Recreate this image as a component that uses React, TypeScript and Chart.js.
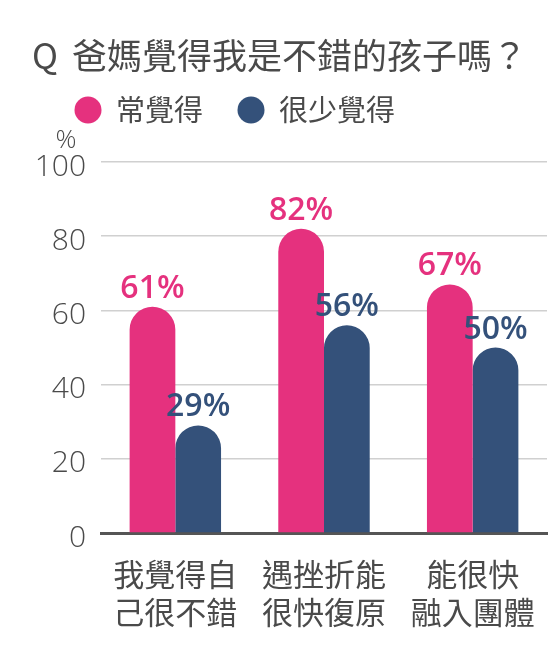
import React, { useEffect, useRef } from "react";
import { Chart, registerables } from "chart.js";

Chart.register(...registerables);

const titleQ = "Q";
const titleText = "爸媽覺得我是不錯的孩子嗎？";
const unitLabel = "%";
const categories = [
  ["我覺得自", "己很不錯"],
  ["遇挫折能", "很快復原"],
  ["能很快", "融入團體"],
];
const seriesNames = ["常覺得", "很少覺得"];
const oftenValues = [61, 82, 67];
const rarelyValues = [29, 56, 50];
const yMin = 0;
const yMax = 100;
const yStep = 20;

const PINK = "#E5317E";
const BLUE = "#34517A";
const TEXT = "#4a4a4a";
const CJK = "'Noto Sans CJK TC', 'Noto Sans', sans-serif";
const NUM = "'Open Sans', 'Noto Sans', sans-serif";

const decorPlugin = {
  id: "decor",
  afterDraw(chart: any) {
    const ctx = chart.ctx;
    ctx.save();
    // Title
    ctx.fillStyle = TEXT;
    ctx.textBaseline = "middle";
    ctx.textAlign = "left";
    ctx.font = `400 35px ${CJK}`;
    ctx.fillText(titleQ, 32, 56);
    ctx.fillText(titleText, 72, 56);
    // Legend
    const legendItems = [
      { x: 88, color: PINK, text: seriesNames[0] },
      { x: 251, color: BLUE, text: seriesNames[1] },
    ];
    ctx.font = `400 29px ${CJK}`;
    legendItems.forEach((it) => {
      ctx.beginPath();
      ctx.fillStyle = it.color;
      ctx.arc(it.x, 110, 13.5, 0, Math.PI * 2);
      ctx.fill();
      ctx.fillStyle = TEXT;
      ctx.fillText(it.text, it.x + 28, 110);
    });
    // unit
    ctx.font = `300 26px ${NUM}`;
    ctx.textAlign = "center";
    ctx.fillText(unitLabel, 66, 141);
    ctx.restore();
  },
  afterDatasetsDraw(chart: any) {
    const ctx = chart.ctx;
    ctx.save();
    ctx.textAlign = "center";
    ctx.textBaseline = "alphabetic";
    ctx.font = `600 32px ${NUM}`;
    chart.data.datasets.forEach((ds: any, i: number) => {
      const meta = chart.getDatasetMeta(i);
      meta.data.forEach((bar: any, j: number) => {
        ctx.fillStyle = ds.backgroundColor;
        ctx.fillText(ds.data[j] + "%", bar.x, bar.y - 9);
      });
    });
    ctx.restore();
  },
};

export default function App() {
  const ref = useRef<HTMLCanvasElement>(null);
  useEffect(() => {
    if (!ref.current) return;
    const chart = new Chart(ref.current, {
      type: "bar",
      data: {
        labels: categories,
        datasets: [
          {
            label: seriesNames[0],
            data: oftenValues,
            backgroundColor: PINK,
            borderRadius: { topLeft: 100, topRight: 100, bottomLeft: 0, bottomRight: 0 },
            borderSkipped: false,
          },
          {
            label: seriesNames[1],
            data: rarelyValues,
            backgroundColor: BLUE,
            borderRadius: { topLeft: 100, topRight: 100, bottomLeft: 0, bottomRight: 0 },
            borderSkipped: false,
          },
        ],
      },
      options: {
        responsive: false,
        animation: false,
        layout: { padding: { top: 162, right: 10, left: 0, bottom: 0 } },
        plugins: {
          legend: { display: false },
          title: { display: false },
          tooltip: { enabled: false },
        },
        datasets: { bar: { categoryPercentage: 0.615, barPercentage: 1 } } as any,
        scales: {
          x: {
            grid: { display: false },
            border: { display: true, color: "#555555", width: 3 },
            ticks: {
              color: TEXT,
              font: { family: CJK, size: 31, lineHeight: 1.2 },
              padding: 15,
              maxRotation: 0,
              autoSkip: false,
            },
            afterFit(scale: any) {
              scale.height = 131;
            },
          },
          y: {
            min: yMin,
            max: yMax,
            grid: { color: "#d0d0d0", lineWidth: 1.5, drawTicks: false },
            border: { display: false },
            ticks: {
              stepSize: yStep,
              color: TEXT,
              font: { family: NUM, size: 30, weight: "300" as any },
              padding: 15,
              labelOffset: 5,
            },
            afterFit(scale: any) {
              scale.width = 101;
            },
          },
        },
      },
      plugins: [decorPlugin],
    });
    return () => chart.destroy();
  }, []);
  return (
    <div style={{ position: "absolute", left: 0, top: 0, width: 557, height: 664, background: "#fff" }}>
      <canvas ref={ref} width={557} height={664} />
    </div>
  );
}
